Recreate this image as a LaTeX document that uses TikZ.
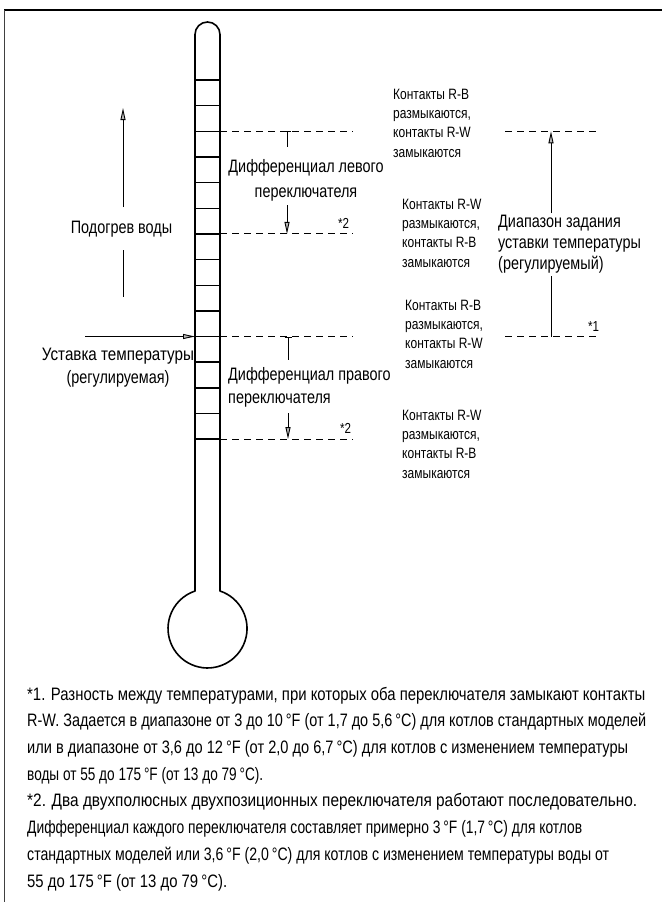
\documentclass[tikz,border=0pt]{standalone}
\usepackage{fontspec}
\setmainfont{Liberation Sans}[FakeStretch=0.8]
\usetikzlibrary{arrows.meta}
% one footnote line set to a given width
\newcommand{\fitline}[2]{\resizebox{#1}{\height}{#2}}
\begin{document}
\begin{tikzpicture}[x=1pt,y=-1pt,
  wall/.style={line width=1.6pt, line join=round},
  tick/.style={line width=1.4pt},
  level/.style={line width=0.9pt, dash pattern=on 7pt off 5pt},
  pointer/.style={line width=0.9pt, -{Triangle[width=5pt,length=12pt,fill=gray!55]}},
  endbar/.style={line width=0.9pt, {Bar[width=7pt]}-},
  plainline/.style={line width=0.9pt},
  biglabel/.style={inner sep=0pt, font=\fontsize{18}{23}\selectfont},
  smalllabel/.style={inner sep=0pt, align=left, anchor=base west, font=\fontsize{15}{19.3}\selectfont},
  notemark/.style={inner sep=0pt, anchor=base west, font=\fontsize{14.5}{17}\selectfont},
]
\useasboundingbox (0,0) rectangle (662,902);
\fill[white] (0,0) rectangle (662,902);

% frame edges
\draw[line width=1.4pt] (4,10) -- (662,10);
\draw[line width=1.4pt, black!75] (4.5,10) -- (4.5,902);

% thermometer outline: tube with rounded top and bulb
\draw[wall] (195,591) -- (195,34.5) arc[start angle=180, end angle=0, radius=12.5pt]
  -- (220,591) arc[start angle=71.6, end angle=-251.6, radius=39.5pt] -- cycle;

% scale divisions
\foreach \k in {0,...,14}{
  \pgfmathsetmacro{\yy}{80+25.65*\k}
  \draw[tick] (195,\yy) -- (220,\yy);
}

% switching levels
\coordinate (L1a) at (220,131.3); \coordinate (L1b) at (353,131.3);
\coordinate (L2a) at (220,233.9); \coordinate (L2b) at (353,233.9);
\coordinate (L3a) at (220,336.5); \coordinate (L3b) at (353,336.5);
\coordinate (L4a) at (220,439.1); \coordinate (L4b) at (353,439.1);
\draw[level] (L1a) -- (L1b);
\draw[level] (L2a) -- (L2b);
\draw[level] (L3a) -- (L3b);
\draw[level] (L4a) -- (L4b);

% left switch differential
\node[biglabel, align=center, anchor=base, font=\fontsize{18}{25}\selectfont] (leftdiff) at (306,197)
  {Дифференциал левого\\переключателя};
\coordinate (ld1) at (287,131.3); \coordinate (ld2) at (287,147);
\coordinate (ld3) at (287,205);   \coordinate (ld4) at (287,233.9);
\draw[endbar] (ld1) -- (ld2);
\draw[pointer] (ld3) -- (ld4);
\node[notemark] (n2a) at (338,228) {*2};

% right switch differential
\node[biglabel, align=left, anchor=base west] (rightdiff) at (228,403)
  {Дифференциал правого\\переключателя};
\coordinate (rd1) at (288,336.5); \coordinate (rd2) at (288,360);
\coordinate (rd3) at (288,413);   \coordinate (rd4) at (288,439.1);
\draw[endbar] (rd1) -- (rd2);
\draw[pointer] (rd3) -- (rd4);
\node[notemark] (n2b) at (340,433) {*2};

% water heating direction
\node[biglabel, anchor=base] (heat) at (121.5,233) {Подогрев воды};
\coordinate (h1) at (123,207); \coordinate (h2) at (123,108);
\coordinate (h3) at (123,250); \coordinate (h4) at (123,297);
\draw[pointer] (h1) -- (h2);
\draw[plainline] (h3) -- (h4);

% set point
\coordinate (sp) at (85,336.5);
\coordinate (spend) at (195,336.5);
\draw[pointer] (sp) -- (spend);
\node[biglabel, align=center, anchor=base] (setpt) at (118,383)
  {\resizebox{152pt}{\height}{Уставка температуры}\\(регулируемая)};

% adjustable range
\coordinate (R1a) at (505,131.3); \coordinate (R1b) at (597,131.3);
\coordinate (R2a) at (505,336.5); \coordinate (R2b) at (597,336.5);
\draw[level] (R1a) -- (R1b);
\draw[level] (R2a) -- (R2b);
\node[biglabel, align=left, anchor=base west, font=\fontsize{18}{21}\selectfont] (range) at (498,269)
  {Диапазон задания\\уставки температуры\\(регулируемый)};
\coordinate (r1) at (551,213); \coordinate (r2) at (551,131.3);
\coordinate (r3) at (551,276); \coordinate (r4) at (551,336.5);
\draw[pointer] (r1) -- (r2);
\draw[plainline] (r3) -- (r4);
\node[notemark] (n1) at (588,331) {*1};

% contact states
\node[smalllabel] (c1) at (393,157) {Контакты R-B\\размыкаются,\\контакты R-W\\замыкаются};
\node[smalllabel] (c2) at (402,267) {Контакты R-W\\размыкаются,\\контакты R-B\\замыкаются};
\node[smalllabel] (c3) at (405,368) {Контакты R-B\\размыкаются,\\контакты R-W\\замыкаются};
\node[smalllabel] (c4) at (402,478) {Контакты R-W\\размыкаются,\\контакты R-B\\замыкаются};

% footnotes
\node[inner sep=0pt, anchor=base west, align=left, font=\fontsize{18}{26.7}\selectfont] (notes) at (27,887)
  {\fitline{618pt}{*1. Разность между температурами, при которых оба переключателя замыкают контакты}\\
   \fitline{619pt}{R-W. Задается в диапазоне от 3 до 10\,°F (от 1,7 до 5,6\,°C) для котлов стандартных моделей}\\
   \fitline{601pt}{или в диапазоне от 3,6 до 12\,°F (от 2,0 до 6,7\,°C) для котлов с изменением температуры}\\
   \fitline{236pt}{воды от 55 до 175\,°F (от 13 до 79\,°C).}\\
   \fitline{610pt}{*2. Два двухполюсных двухпозиционных переключателя работают последовательно.}\\
   \fitline{555pt}{Дифференциал каждого переключателя составляет примерно 3\,°F (1,7\,°C) для котлов}\\
   \fitline{582pt}{стандартных моделей или 3,6\,°F (2,0\,°C) для котлов с изменением температуры воды от}\\
   \fitline{200pt}{55 до 175\,°F (от 13 до 79\,°C).}};
\end{tikzpicture}
\end{document}
